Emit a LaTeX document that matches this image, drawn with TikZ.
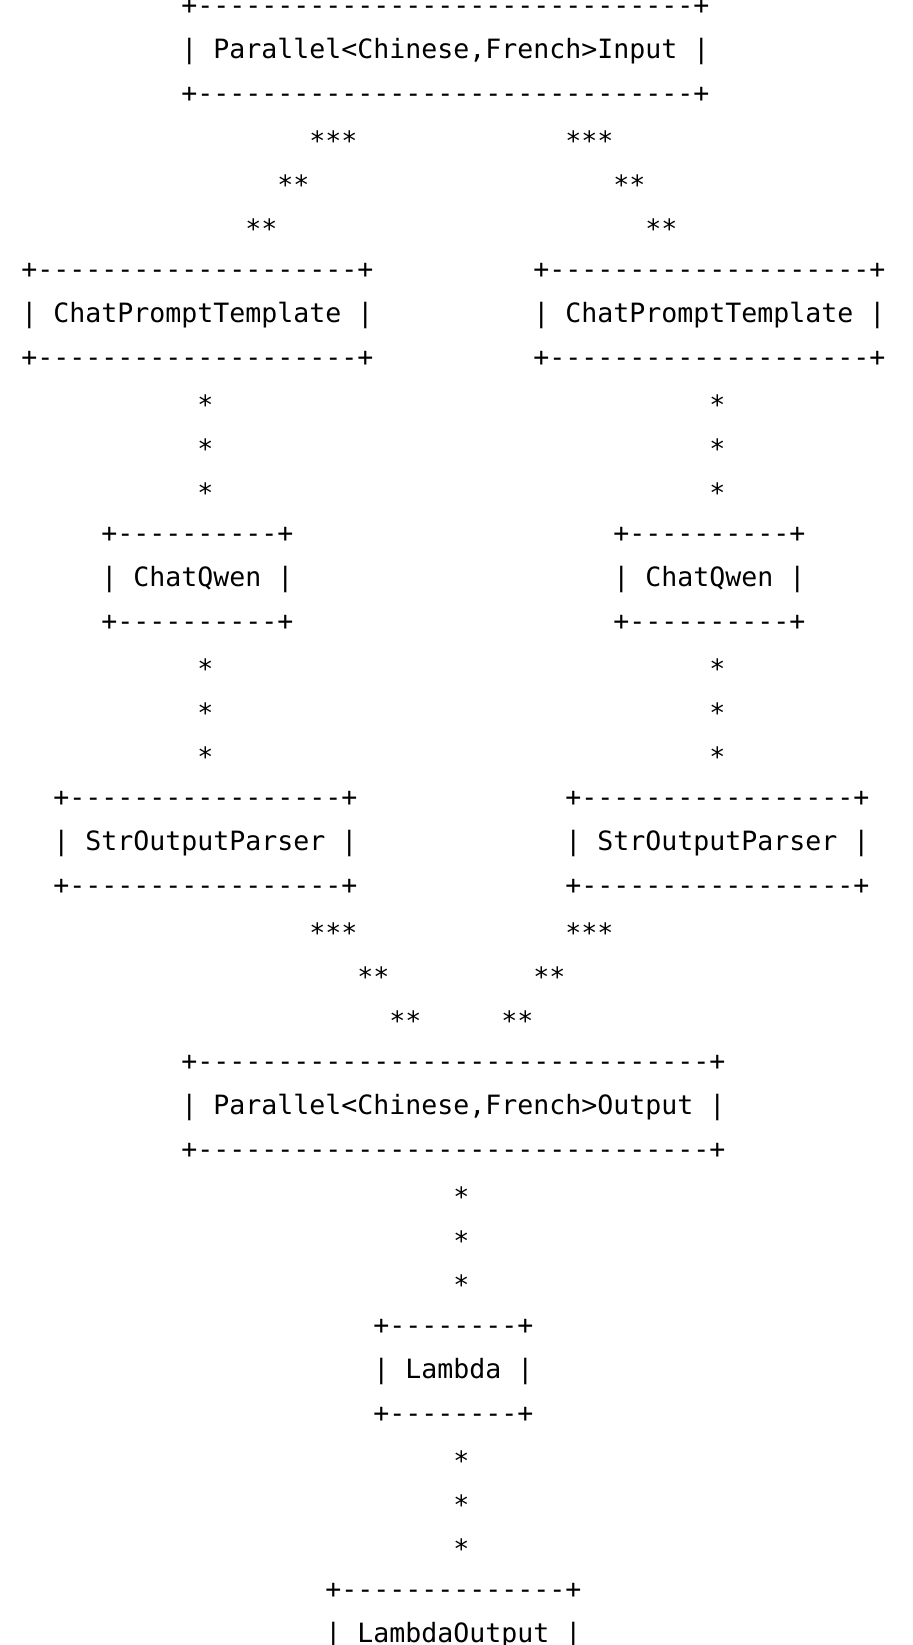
\documentclass[tikz,border=0pt]{standalone}
\usepackage{fontspec}
\setmonofont{DejaVu Sans Mono}
\ExplSyntaxOn
\cs_new:Npn \myhr #1 { + \prg_replicate:nn {#1} {-} + }
\ExplSyntaxOff
\tikzset{
  txt/.style={anchor=base west, inner sep=0pt, outer sep=0pt, font=\ttfamily\fontsize{13.29pt}{22pt}\selectfont, text=black},
  star/.style={txt, yshift=-2pt}
}
% place text at column #2, row #3
\newcommand\tline[4]{\node[txt] (#1) at ({10.7pt+8pt*#2},{-7pt-22pt*#3}) {#4};}
\newcommand\tstar[4]{\node[star] (#1) at ({10.7pt+8pt*#2},{-7pt-22pt*#3}) {#4};}
\begin{document}
\begin{tikzpicture}
\fill[white] (0,0) rectangle (456.5pt,-822.5pt);
\useasboundingbox (0,0) rectangle (456.5pt,-822.5pt);
% input box
\tline{inA}{10}{0}{\myhr{31}}
\tline{inB}{10}{1}{| Parallel<Chinese,French>Input |}
\tline{inC}{10}{2}{\myhr{31}}
% fork stars
\tstar{fl1}{18}{3}{***}\tstar{fr1}{34}{3}{***}
\tstar{fl2}{16}{4}{**}\tstar{fr2}{37}{4}{**}
\tstar{fl3}{14}{5}{**}\tstar{fr3}{39}{5}{**}
% ChatPromptTemplate boxes
\tline{cpA}{0}{6}{\myhr{20}}\tline{cqA}{32}{6}{\myhr{20}}
\tline{cpB}{0}{7}{| ChatPromptTemplate |}\tline{cqB}{32}{7}{| ChatPromptTemplate |}
\tline{cpC}{0}{8}{\myhr{20}}\tline{cqC}{32}{8}{\myhr{20}}
\tstar{sl1}{11}{9}{*}\tstar{sr1}{43}{9}{*}
\tstar{sl2}{11}{10}{*}\tstar{sr2}{43}{10}{*}
\tstar{sl3}{11}{11}{*}\tstar{sr3}{43}{11}{*}
% ChatQwen boxes
\tline{qlA}{5}{12}{\myhr{10}}\tline{qrA}{37}{12}{\myhr{10}}
\tline{qlB}{5}{13}{| ChatQwen |}\tline{qrB}{37}{13}{| ChatQwen |}
\tline{qlC}{5}{14}{\myhr{10}}\tline{qrC}{37}{14}{\myhr{10}}
\tstar{tl1}{11}{15}{*}\tstar{tr1}{43}{15}{*}
\tstar{tl2}{11}{16}{*}\tstar{tr2}{43}{16}{*}
\tstar{tl3}{11}{17}{*}\tstar{tr3}{43}{17}{*}
% StrOutputParser boxes
\tline{plA}{2}{18}{\myhr{17}}\tline{prA}{34}{18}{\myhr{17}}
\tline{plB}{2}{19}{| StrOutputParser |}\tline{prB}{34}{19}{| StrOutputParser |}
\tline{plC}{2}{20}{\myhr{17}}\tline{prC}{34}{20}{\myhr{17}}
% join stars
\tstar{jl1}{18}{21}{***}\tstar{jr1}{34}{21}{***}
\tstar{jl2}{21}{22}{**}\tstar{jr2}{32}{22}{**}
\tstar{jl3}{23}{23}{**}\tstar{jr3}{30}{23}{**}
% output box
\tline{outA}{10}{24}{\myhr{32}}
\tline{outB}{10}{25}{| Parallel<Chinese,French>Output |}
\tline{outC}{10}{26}{\myhr{32}}
\tstar{u1}{27}{27}{*}
\tstar{u2}{27}{28}{*}
\tstar{u3}{27}{29}{*}
% Lambda
\tline{lamA}{22}{30}{\myhr{8}}
\tline{lamB}{22}{31}{| Lambda |}
\tline{lamC}{22}{32}{\myhr{8}}
\tstar{v1}{27}{33}{*}
\tstar{v2}{27}{34}{*}
\tstar{v3}{27}{35}{*}
% LambdaOutput
\tline{loA}{19}{36}{\myhr{14}}
\tline{loB}{19}{37}{| LambdaOutput |}
\end{tikzpicture}
\end{document}
